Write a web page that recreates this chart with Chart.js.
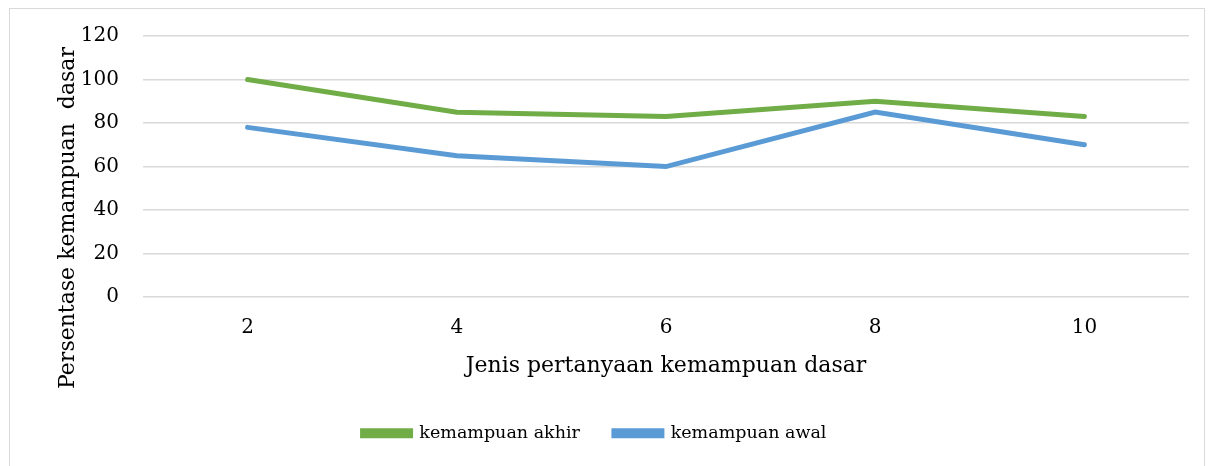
<!DOCTYPE html>
<html>
<head>
<meta charset="utf-8">
<script src="https://cdn.jsdelivr.net/npm/chart.js@4"></script>
<style>
  html, body { margin: 0; padding: 0; background: #fff; }
  #wrap { position: relative; width: 1214px; height: 466px; overflow: hidden; }
  #frame { position: absolute; left: 9px; top: 8px; width: 1194px; height: 470px; border: 1px solid #d9d9d9; }
  canvas { position: absolute; left: 0; top: 0; }
</style>
</head>
<body>
<div id="wrap">
  <div id="frame"></div>
  <canvas id="chart" width="1214" height="466"></canvas>
</div>
<script>
const categories = ["2", "4", "6", "8", "10"];
const akhir = [100, 85, 83, 90, 83];
const awal = [78, 65, 60, 85, 70];
const yTicks = [0, 20, 40, 60, 80, 100, 120];
const yTitle = "Persentase kemampuan  dasar";

const serif = "'DejaVu Serif', 'Liberation Serif', serif";

// y title sits lower than the plot centre in the original, so draw it by hand
const yTitlePlugin = {
  id: "yTitle",
  afterDraw(chart) {
    const c = chart.ctx;
    c.save();
    c.translate(68, 218);
    c.rotate(-Math.PI / 2);
    c.font = "22px " + serif;
    c.fillStyle = "#000";
    c.textAlign = "center";
    c.textBaseline = "middle";
    c.fillText(yTitle, 0, 0);
    c.restore();
  },
};

const ctx = document.getElementById("chart").getContext("2d");
new Chart(ctx, {
  type: "line",
  plugins: [yTitlePlugin],
  data: {
    labels: categories,
    datasets: [
      {
        label: "kemampuan akhir",
        data: akhir,
        borderColor: "#70ad47",
        backgroundColor: "#70ad47",
        borderWidth: 5,
        borderCapStyle: "round",
        pointRadius: 0,
        tension: 0,
        fill: false,
      },
      {
        label: "kemampuan awal",
        data: awal,
        borderColor: "#5b9bd5",
        backgroundColor: "#5b9bd5",
        borderWidth: 5,
        borderCapStyle: "round",
        pointRadius: 0,
        tension: 0,
        fill: false,
      },
    ],
  },
  options: {
    responsive: false,
    animation: false,
    layout: { padding: { top: 26, right: 25, left: 0, bottom: 14 } },
    plugins: {
      tooltip: { enabled: false },
      legend: {
        position: "bottom",
        labels: {
          boxWidth: 48,
          boxHeight: 5,
          padding: 34,
          color: "#000",
          font: { family: serif, size: 17.5 },
        },
      },
    },
    scales: {
      x: {
        offset: true,
        grid: { display: false },
        border: { display: false },
        ticks: { color: "#000", padding: 11, font: { family: serif, size: 20 } },
        title: {
          display: true,
          text: "Jenis pertanyaan kemampuan dasar",
          color: "#000",
          font: { family: serif, size: 22 },
          padding: { top: 2, bottom: 11 },
        },
      },
      y: {
        min: 0,
        max: 120,
        afterBuildTicks: (axis) => {
          axis.ticks = yTicks.map((v) => ({ value: v }));
        },
        afterFit: (axis) => {
          axis.width = 143;
        },
        grid: { color: "#d9d9d9", lineWidth: 1.5, drawTicks: false },
        border: { display: false },
        ticks: { color: "#000", padding: 24, font: { family: serif, size: 20 } },
      },
    },
  },
});
</script>
</body>
</html>
